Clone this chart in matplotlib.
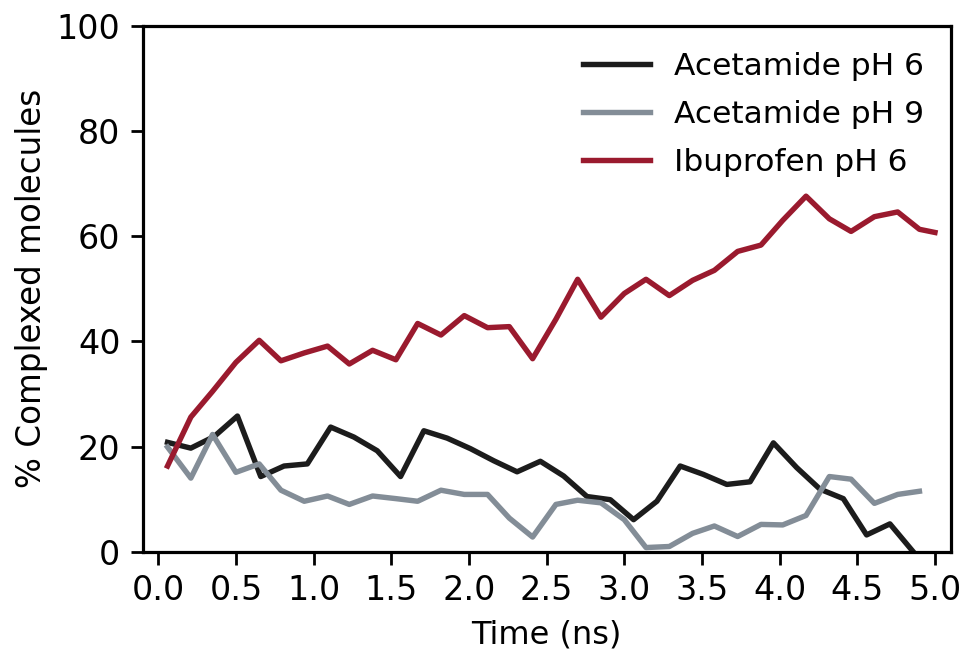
import matplotlib
matplotlib.use('Agg')
import matplotlib.pyplot as plt

# Time axes (ns)
time_acet6 = [0.06, 0.21, 0.36, 0.51, 0.66, 0.81, 0.96, 1.11, 1.26, 1.41, 1.56,
              1.71, 1.86, 2.01, 2.16, 2.31, 2.46, 2.61, 2.76, 2.91, 3.06, 3.21,
              3.36, 3.51, 3.66, 3.81, 3.96, 4.11, 4.26, 4.41, 4.56, 4.71, 4.86]
time_acet9 = [0.06, 0.21, 0.35, 0.50, 0.65, 0.79, 0.94, 1.09, 1.23, 1.38, 1.53,
              1.67, 1.82, 1.97, 2.12, 2.26, 2.41, 2.56, 2.70, 2.85, 3.00, 3.14,
              3.29, 3.44, 3.58, 3.73, 3.88, 4.02, 4.17, 4.32, 4.46, 4.61, 4.76,
              4.90]
time_ibu6 = time_acet9 + [5.00]

# % complexed molecules
acet6 = [20.8, 19.7, 21.9, 25.8, 14.3, 16.3, 16.7, 23.7, 21.8, 19.2, 14.3,
         23.0, 21.6, 19.6, 17.3, 15.2, 17.2, 14.4, 10.5, 9.9, 6.1, 9.6,
         16.3, 14.7, 12.8, 13.3, 20.7, 16.0, 11.9, 10.1, 3.2, 5.3, 0.0]
acet9 = [19.9, 14.0, 22.3, 15.1, 16.7, 11.7, 9.6, 10.6, 9.0, 10.6, 10.1,
         9.6, 11.7, 10.9, 10.9, 6.4, 2.8, 9.0, 9.8, 9.3, 6.1, 0.8,
         1.0, 3.5, 4.9, 2.9, 5.2, 5.1, 6.9, 14.3, 13.8, 9.2, 10.9, 11.5]
ibu6 = [16.3, 25.6, 30.5, 36.0, 40.2, 36.3, 37.8, 39.1, 35.7, 38.3, 36.5,
        43.4, 41.2, 44.9, 42.6, 42.8, 36.7, 44.2, 51.8, 44.6, 49.1, 51.8,
        48.7, 51.6, 53.5, 57.1, 58.3, 63.0, 67.6, 63.3, 60.9, 63.7, 64.6,
        61.3, 60.7]

labels = ['Acetamide pH 6', 'Acetamide pH 9', 'Ibuprofen pH 6']
xticks = [0.0, 0.5, 1.0, 1.5, 2.0, 2.5, 3.0, 3.5, 4.0, 4.5, 5.0]
yticks = [0, 20, 40, 60, 80, 100]

plt.rcParams['font.family'] = 'DejaVu Sans'
plt.rcParams['font.size'] = 23

fig = plt.figure(figsize=(9.64, 6.6), dpi=100)
ax = fig.add_axes([0.148, 0.164, 0.838, 0.797])

ax.plot(time_acet6, acet6, color='#1c1c1c', lw=3.9, label=labels[0])
ax.plot(time_acet9, acet9, color='#838d97', lw=3.9, label=labels[1])
ax.plot(time_ibu6, ibu6, color='#9a1a2e', lw=3.9, label=labels[2])

ax.set_xlim(-0.1, 5.1)
ax.set_ylim(0, 100)
ax.set_xticks(xticks)
ax.set_yticks(yticks)
ax.set_xticklabels(['{:.1f}'.format(t) for t in xticks])
ax.tick_params(direction='out', length=9, width=2, labelsize=24, pad=7)
for sp in ax.spines.values():
    sp.set_linewidth(2.3)

ax.set_xlabel('Time (ns)', fontsize=23, labelpad=9)
ax.set_ylabel('% Complexed molecules', fontsize=23.5, labelpad=6)

ax.legend(loc='upper right', frameon=False, fontsize=22.5, handlelength=2.15,
          handletextpad=0.75, labelspacing=0.6, borderaxespad=0.45)

fig.savefig('out.png', dpi=100)
plt.close()
